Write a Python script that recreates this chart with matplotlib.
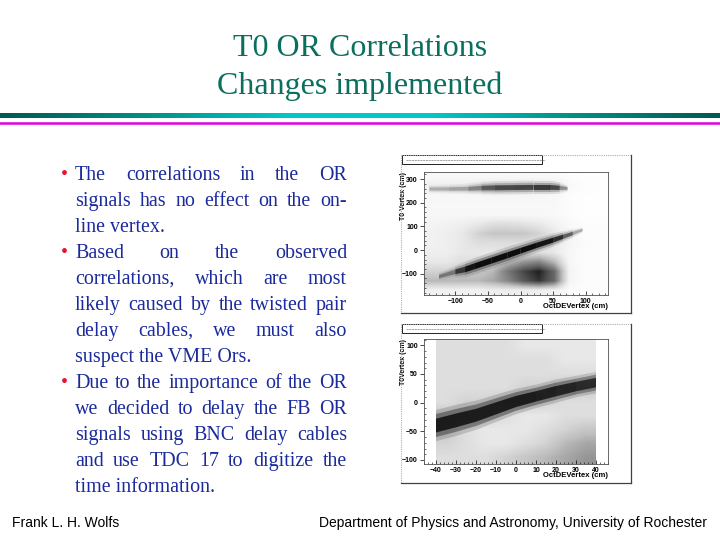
import numpy as np
import matplotlib
matplotlib.use("Agg")
import matplotlib.pyplot as plt
from matplotlib.collections import PolyCollection
from matplotlib.colors import LinearSegmentedColormap
from matplotlib.patches import Rectangle

W, H = 720, 540

# ---- slide text ----
title_lines = ["T0 OR Correlations", "Changes implemented"]
bullet_lines = [
    ("The correlations in the OR", True, True),
    ("signals has no effect on the on-", False, True),
    ("line vertex.", False, False),
    ("Based on the observed", True, True),
    ("correlations, which are most", False, True),
    ("likely caused by the twisted pair", False, True),
    ("delay cables, we must also", False, True),
    ("suspect the VME Ors.", False, False),
    ("Due to the importance of the OR", True, True),
    ("we decided to delay the FB OR", False, True),
    ("signals using BNC delay cables", False, True),
    ("and use TDC 17 to digitize the", False, True),
    ("time information.", False, False),
]
footer_left = "Frank L. H. Wolfs"
footer_right = "Department of Physics and Astronomy, University of Rochester"

# ---- plot 1: T0 Vertex vs OctDEVertex (before) ----
p1_xlim = (-148, 134)
p1_ylim = (-190, 330)
p1_xticks = [-100, -50, 0, 50, 100]
p1_yticks = [-100, 0, 100, 200, 300]
# estimated point density (0 = empty, 9 = black), rows from y=-170 up to y=310
p1_density = [
    [1.0, 1.0, 1.0, 1.0, 1.2, 1.2, 1.2, 1.2, 1.0, 0.3, 0.2, 0.2],
    [3.5, 3.5, 3.5, 3.5, 4.0, 5.0, 6.5, 7.5, 6.0, 0.8, 0.2, 0.2],
    [2.5, 2.5, 3.0, 3.0, 3.5, 5.5, 7.0, 8.0, 6.0, 0.8, 0.2, 0.2],
    [1.5, 1.5, 2.0, 2.0, 2.5, 3.5, 4.5, 5.0, 3.5, 0.6, 0.2, 0.2],
    [1.2, 1.2, 1.5, 1.5, 1.5, 2.0, 2.0, 2.0, 1.5, 0.6, 0.2, 0.2],
    [1.0, 1.2, 1.5, 2.0, 2.0, 2.0, 2.0, 2.0, 1.5, 0.8, 0.3, 0.2],
    [1.0, 1.2, 1.5, 2.5, 3.0, 3.0, 3.0, 2.5, 1.5, 0.6, 0.2, 0.2],
    [0.8, 1.0, 1.2, 1.5, 2.0, 2.0, 1.8, 1.5, 1.0, 0.4, 0.2, 0.2],
    [0.6, 0.6, 0.6, 0.6, 0.6, 0.6, 0.6, 0.6, 0.5, 0.2, 0.1, 0.1],
    [0.5, 0.5, 0.5, 0.5, 0.5, 0.5, 0.5, 0.5, 0.5, 0.2, 0.1, 0.1],
    [0.6, 0.6, 0.6, 0.6, 0.7, 0.7, 0.7, 0.7, 0.6, 0.2, 0.1, 0.1],
    [1.2, 1.2, 1.2, 1.5, 1.8, 1.8, 1.8, 1.8, 1.5, 0.5, 0.2, 0.1],
    [0.5, 0.5, 0.5, 0.5, 0.5, 0.5, 0.5, 0.5, 0.5, 0.2, 0.1, 0.1],
]
# narrow bands: centre line, half width (cm) and darkness
p1_top_x = [-140, -110, -80, -60, -40, -10, 20, 45, 60, 72]
p1_top_y = [258, 258, 259, 262, 263, 264, 265, 265, 263, 260]
p1_top_hw = [8, 9, 10, 12, 13, 13, 13, 13, 11, 6]
p1_top_d = [0.25, 0.3, 0.35, 0.6, 0.8, 0.8, 0.85, 0.95, 0.7, 0.2]
p1_diag_x = [-125, -100, -85, -70, -45, -20, 0, 25, 50, 65, 80, 95]
p1_diag_y = [-112, -92, -82, -68, -45, -22, -3, 20, 42, 56, 70, 85]
p1_diag_hw = [8, 12, 15, 16, 16, 16, 15, 14, 13, 11, 9, 6]
p1_diag_d = [0.2, 0.5, 0.9, 1.0, 1.0, 1.0, 1.0, 1.0, 0.9, 0.7, 0.4, 0.15]

# ---- plot 2: T0Vertex vs OctDEVertex (after) ----
p2_xlim = (-46, 46)
p2_ylim = (-107, 111)
p2_xticks = [-40, -30, -20, -10, 0, 10, 20, 30, 40]
p2_yticks = [-100, -50, 0, 50, 100]
p2_extent = (-40, 40, -107, 111)
p2_density = [
    [2.0, 2.0, 2.0, 2.5, 3.0, 3.5, 4.0, 4.5],
    [2.5, 2.0, 1.5, 1.5, 2.0, 2.5, 3.5, 4.0],
    [3.0, 2.0, 1.5, 1.5, 1.5, 2.0, 2.5, 3.0],
    [3.0, 3.0, 2.5, 2.0, 1.5, 1.5, 2.0, 2.0],
    [2.0, 2.5, 2.5, 3.0, 3.0, 2.5, 2.0, 2.0],
    [2.0, 2.0, 2.0, 2.0, 2.5, 2.5, 3.0, 3.0],
    [2.0, 2.0, 2.0, 2.0, 2.0, 2.0, 2.0, 2.0],
    [2.0, 2.0, 2.0, 2.0, 2.0, 2.0, 1.5, 1.5],
    [2.0, 2.0, 2.0, 2.0, 1.5, 1.5, 1.5, 1.5],
]
p2_diag_x = [-40, -30, -20, -10, 0, 10, 20, 30, 40]
p2_diag_y = [-40, -31, -22, -10, 2, 11, 20, 28, 35]
p2_diag_hw = [16, 16, 15, 14, 13, 12, 12, 11, 11]
p2_diag_d = [1.0, 1.0, 1.0, 1.0, 1.0, 1.0, 0.95, 0.9, 0.85]

fig = plt.figure(figsize=(7.2, 5.4), dpi=100)


def fx(px):
    return px / W


def fy(py):
    return 1 - py / H


# title
title_color = "#0b6e5f"
fig.text(0.5, fy(48), title_lines[0], ha="center", va="center",
         family="Liberation Serif", fontsize=23, color=title_color)
fig.text(0.5, fy(86), title_lines[1], ha="center", va="center",
         family="Liberation Serif", fontsize=23, color=title_color)

# gradient rule and magenta rule
rule_cmap = LinearSegmentedColormap.from_list(
    "rule", ["#005a50", "#008f88", "#00c8c8", "#00c8c8", "#008f88", "#005a50"])
rax = fig.add_axes([0, fy(118.5), 1, 5.5 / H])
rax.imshow(np.linspace(0, 1, 256)[None, :], cmap=rule_cmap, aspect="auto")
rax.axis("off")
fig.add_artist(plt.Line2D([0, 1], [fy(123), fy(123)], color="#e000e0", lw=1.8))

# bullet text, justified
body_color = "#1b2a9c"
body_fs = 14.4
renderer = fig.canvas.get_renderer()
left, right = 75, 347
for i, (line, bullet, justify) in enumerate(bullet_lines):
    base = 180 + 26 * i
    if bullet:
        fig.text(fx(61), fy(base), "\u2022", ha="left", va="baseline",
                 family="Liberation Serif", fontsize=body_fs, color="#e8102c")
    if not justify:
        fig.text(fx(left), fy(base), line, ha="left", va="baseline",
                 family="Liberation Serif", fontsize=body_fs, color=body_color)
        continue
    words = line.split()
    objs = [fig.text(0, 0, w, ha="left", va="baseline", family="Liberation Serif",
                     fontsize=body_fs, color=body_color) for w in words]
    widths = [o.get_window_extent(renderer).width for o in objs]
    gap = (right - left - sum(widths)) / (len(words) - 1)
    xpos = left
    for o, wd in zip(objs, widths):
        o.set_position((fx(xpos), fy(base)))
        xpos += wd + gap

# footer
fig.text(fx(12), fy(523), footer_left, ha="left", va="center",
         family="Liberation Sans", fontsize=10, color="black")
fig.text(fx(707), fy(523), footer_right, ha="right", va="center",
         family="Liberation Sans", fontsize=10, color="black")


def pad(top, bottom):
    l, r = 401, 631
    fig.add_artist(plt.Line2D([fx(l), fx(r)], [fy(top), fy(top)], color="#b0b0b0",
                              lw=0.8, ls=(0, (1, 1))))
    fig.add_artist(plt.Line2D([fx(l), fx(l)], [fy(top), fy(bottom)], color="#b0b0b0",
                              lw=0.8, ls=(0, (1, 1))))
    fig.add_artist(plt.Line2D([fx(r), fx(r)], [fy(top), fy(bottom)], color="#404040",
                              lw=0.9))
    fig.add_artist(plt.Line2D([fx(l), fx(r)], [fy(bottom), fy(bottom)], color="#404040",
                              lw=0.9))
    # histogram title box
    fig.add_artist(Rectangle((fx(402), fy(top + 9)), fx(542) - fx(402), 9 / H,
                             facecolor="white", edgecolor="black", lw=0.6))
    fig.add_artist(plt.Line2D([fx(406), fx(545)], [fy(top + 4.5), fy(top + 4.5)],
                              color="#808080", lw=0.5, ls=(0, (3, 1))))


def band(ax, xs, ys, hws, ds, layers):
    xs, ys, hws, ds = map(np.asarray, (xs, ys, hws, ds))
    for scale, a in layers:
        quads, cols = [], []
        for i in range(len(xs) - 1):
            h0, h1 = hws[i] * scale, hws[i + 1] * scale
            quads.append([(xs[i], ys[i] - h0), (xs[i + 1], ys[i + 1] - h1),
                          (xs[i + 1], ys[i + 1] + h1), (xs[i], ys[i] + h0)])
            cols.append((0, 0, 0, a * (ds[i] + ds[i + 1]) / 2))
        ax.add_collection(PolyCollection(quads, facecolors=cols, edgecolors="none",
                                         zorder=3))


def style(ax, xlim, ylim, xticks, yticks, ylabel):
    ax.set_xlim(*xlim)
    ax.set_ylim(*ylim)
    ax.set_xticks(xticks)
    ax.set_yticks(yticks)
    ax.set_xticklabels([str(t).replace("-", "\u2212") for t in xticks])
    ax.set_yticklabels([str(t).replace("-", "\u2212") for t in yticks])
    for lab in ax.get_xticklabels() + ax.get_yticklabels():
        lab.set_family("Liberation Sans")
        lab.set_fontweight("bold")
        lab.set_fontsize(5)
    ax.tick_params(axis="x", direction="in", length=3, width=0.5, pad=2)
    ax.tick_params(axis="y", direction="out", length=3, width=0.5, pad=1.5)
    ax.minorticks_on()
    ax.tick_params(which="minor", direction="in", length=1.5, width=0.4)
    for s in ax.spines.values():
        s.set_linewidth(0.6)
        s.set_color("#505050")
    ax.set_xlabel("OctDEVertex (cm)", fontsize=5.5, fontweight="bold",
                  family="Liberation Sans", loc="right", labelpad=-1)
    ax.set_ylabel(ylabel, fontsize=5.0, fontweight="bold",
                  family="Liberation Sans", loc="top")
    ax.yaxis.set_label_coords(-0.095, 1.0)


# plot 1
pad(155, 313)
ax1 = fig.add_axes([fx(424), fy(295), (608 - 424) / W, (295 - 172) / H])
ax1.imshow(p1_density, extent=(p1_xlim[0], p1_xlim[1], p1_ylim[0], p1_ylim[1]),
           origin="lower", cmap="Greys", vmin=0, vmax=9, interpolation="bilinear",
           aspect="auto", zorder=1)
band(ax1, p1_top_x, p1_top_y, p1_top_hw, p1_top_d,
     [(2.2, 0.12), (1.5, 0.25), (0.8, 0.7)])
band(ax1, p1_diag_x, p1_diag_y, p1_diag_hw, p1_diag_d,
     [(2.2, 0.12), (1.5, 0.3), (0.8, 0.9)])
style(ax1, p1_xlim, p1_ylim, p1_xticks, p1_yticks, "T0 Vertex (cm)")

# plot 2
pad(324, 483)
ax2 = fig.add_axes([fx(424), fy(464), (608 - 424) / W, (464 - 339) / H])
ax2.imshow(p2_density, extent=p2_extent, origin="lower", cmap="Greys", vmin=0,
           vmax=9, interpolation="bilinear", aspect="auto", zorder=1)
band(ax2, p2_diag_x, p2_diag_y, p2_diag_hw, p2_diag_d,
     [(1.7, 0.15), (1.25, 0.35), (0.75, 0.75)])
style(ax2, p2_xlim, p2_ylim, p2_xticks, p2_yticks, "T0Vertex (cm)")

fig.savefig("out.png", dpi=100)
